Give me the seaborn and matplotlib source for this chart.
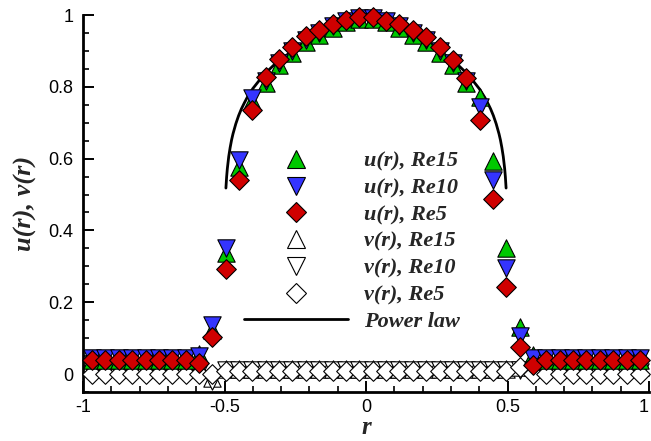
import matplotlib
matplotlib.use("Agg")
import matplotlib.pyplot as plt
from matplotlib.lines import Line2D
from matplotlib.ticker import MultipleLocator
import seaborn as sns

# ---------------- data ----------------
r = [-0.968, -0.921, -0.874, -0.826, -0.779, -0.732, -0.685, -0.637, -0.590, -0.543,
     -0.496, -0.449, -0.402, -0.354, -0.307, -0.260, -0.212, -0.165, -0.118, -0.071,
     -0.024, 0.024, 0.071, 0.118, 0.165, 0.212, 0.260, 0.307, 0.354, 0.402,
     0.449, 0.496, 0.543, 0.590, 0.637, 0.685, 0.732, 0.779, 0.826, 0.874,
     0.921, 0.968]

u_re15 = [0.04, 0.04, 0.04, 0.04, 0.04, 0.04, 0.04, 0.04, 0.055, 0.123,
          0.337, 0.577, 0.76, 0.81, 0.86, 0.895, 0.925, 0.945, 0.965, 0.98,
          0.99, 0.99, 0.98, 0.965, 0.945, 0.925, 0.895, 0.86, 0.81, 0.772,
          0.593, 0.351, 0.13, 0.053, 0.04, 0.04, 0.04, 0.04, 0.04, 0.04,
          0.04, 0.04]
u_re10 = [0.045, 0.045, 0.045, 0.045, 0.045, 0.045, 0.045, 0.045, 0.05, 0.137,
          0.35, 0.596, 0.77, 0.815, 0.865, 0.90, 0.93, 0.95, 0.968, 0.982,
          0.992, 0.992, 0.982, 0.968, 0.95, 0.93, 0.90, 0.865, 0.815, 0.744,
          0.54, 0.295, 0.105, 0.045, 0.045, 0.045, 0.045, 0.045, 0.045, 0.045,
          0.045, 0.045]
u_re5 = [0.04, 0.04, 0.04, 0.04, 0.04, 0.04, 0.04, 0.04, 0.03, 0.103,
         0.292, 0.54, 0.735, 0.827, 0.877, 0.911, 0.941, 0.958, 0.975, 0.986,
         0.994, 0.994, 0.983, 0.975, 0.958, 0.939, 0.911, 0.875, 0.824, 0.707,
         0.487, 0.242, 0.075, 0.025, 0.04, 0.04, 0.04, 0.04, 0.04, 0.04,
         0.04, 0.04]

v_re15 = [0.02, 0.02, 0.02, 0.02, 0.02, 0.02, 0.02, 0.02, 0.02, -0.01,
          0.015, 0.015, 0.015, 0.015, 0.015, 0.015, 0.015, 0.015, 0.015, 0.015,
          0.015, 0.015, 0.015, 0.015, 0.015, 0.015, 0.015, 0.015, 0.015, 0.015,
          0.015, 0.015, 0.02, 0.02, 0.02, 0.02, 0.02, 0.02, 0.02, 0.02,
          0.02, 0.02]
v_re10 = [0.005, 0.005, 0.005, 0.005, 0.005, 0.005, 0.005, 0.005, 0.005, -0.02,
          0.01, 0.01, 0.01, 0.01, 0.01, 0.01, 0.01, 0.01, 0.01, 0.01,
          0.01, 0.01, 0.01, 0.01, 0.01, 0.01, 0.01, 0.01, 0.01, 0.01,
          0.01, 0.01, 0.01, 0.005, 0.005, 0.005, 0.005, 0.005, 0.005, 0.005,
          0.005, 0.005]
v_re5 = [0.0, 0.0, 0.0, 0.0, 0.0, 0.0, 0.0, 0.0, 0.0, 0.0,
         0.008, 0.008, 0.008, 0.008, 0.008, 0.008, 0.008, 0.008, 0.008, 0.008,
         0.008, 0.008, 0.008, 0.008, 0.008, 0.008, 0.008, 0.008, 0.008, 0.008,
         0.008, 0.008, 0.02, 0.0, 0.0, 0.0, 0.0, 0.0, 0.0, 0.0,
         0.0, 0.0]

r_power = [-0.495, -0.4925, -0.49, -0.485, -0.48, -0.475, -0.47, -0.46, -0.45, -0.44,
           -0.43, -0.42, -0.40, -0.375, -0.35, -0.325, -0.30, -0.25, -0.20, -0.15,
           -0.10, -0.05, -0.025, -0.01, 0.0, 0.01, 0.025, 0.05, 0.10, 0.15,
           0.20, 0.25, 0.30, 0.325, 0.35, 0.375, 0.40, 0.42, 0.43, 0.44,
           0.45, 0.46, 0.47, 0.475, 0.48, 0.485, 0.49, 0.4925, 0.495]
u_power = [0.518, 0.549, 0.572, 0.606, 0.631, 0.652, 0.669, 0.697, 0.720, 0.739,
           0.755, 0.770, 0.795, 0.820, 0.842, 0.861, 0.877, 0.906, 0.930, 0.950,
           0.969, 0.985, 0.9927, 0.9971, 1.0, 0.9971, 0.9927, 0.985, 0.969, 0.950,
           0.930, 0.906, 0.877, 0.861, 0.842, 0.820, 0.795, 0.770, 0.755, 0.739,
           0.720, 0.697, 0.669, 0.652, 0.631, 0.606, 0.572, 0.549, 0.518]

labels = ["u(r), Re15", "u(r), Re10", "u(r), Re5",
          "v(r), Re15", "v(r), Re10", "v(r), Re5", "Power law"]

green = "#00c800"
blue = "#3434ff"
red = "#d00000"

# ---------------- figure ----------------
sns.set_style("ticks")
plt.rcParams["font.family"] = ["Liberation Sans", "DejaVu Sans"]

fig = plt.figure(figsize=(6.51, 4.41), dpi=100)
ax = fig.add_axes([83 / 651, 49 / 441, 566 / 651, 377 / 441])

tri_ms = 12.5
dia_ms = 10.0
ew = 0.8

common = dict(edgecolor="black", linewidth=ew, clip_on=False, zorder=3, ax=ax, legend=False)

sns.lineplot(x=r_power, y=u_power, sort=False, estimator=None, color="black",
             linewidth=2.0, ax=ax, zorder=2)

sns.scatterplot(x=r, y=v_re15, marker="^", s=tri_ms ** 2, color="white", **common)
sns.scatterplot(x=r, y=v_re10, marker="v", s=tri_ms ** 2, color="white", **common)
sns.scatterplot(x=r, y=v_re5, marker="D", s=dia_ms ** 2, color="white", **common)
sns.scatterplot(x=r, y=u_re15, marker="^", s=tri_ms ** 2, color=green, **common)
sns.scatterplot(x=r, y=u_re10, marker="v", s=tri_ms ** 2, color=blue, **common)
sns.scatterplot(x=r, y=u_re5, marker="D", s=dia_ms ** 2, color=red, **common)

ax.set_xlim(-1, 1)
ax.set_ylim(-0.05, 1.0)
ax.xaxis.set_minor_locator(MultipleLocator(0.1))
ax.yaxis.set_minor_locator(MultipleLocator(0.05))
ax.set_xticks([-1, -0.5, 0, 0.5, 1])
xt = ax.set_xticklabels(["-1", "-0.5", "0", "0.5", "1"])
xt[-1].set_horizontalalignment("right")
ax.set_yticks([0, 0.2, 0.4, 0.6, 0.8, 1.0])
ax.set_yticklabels(["0", "0.2", "0.4", "0.6", "0.8", "1"])

for side in ["top", "right"]:
    ax.spines[side].set_visible(False)
for side in ["left", "bottom"]:
    ax.spines[side].set_linewidth(2.0)
    ax.spines[side].set_color("black")

ax.tick_params(which="major", direction="in", length=8, width=1.4, labelsize=13,
               pad=7, colors="black")
ax.tick_params(axis="x", which="major", pad=5)
ax.tick_params(which="minor", direction="in", length=4.5, width=1.2, colors="black")

label_font = dict(family=["Liberation Serif", "DejaVu Serif"], weight="bold",
                  style="italic")
ax.set_xlabel("r", labelpad=0, size=18, **label_font)
ax.set_ylabel("u(r), v(r)", labelpad=8, size=19, **label_font)

handles = [
    Line2D([], [], linestyle="none", marker="^", markersize=tri_ms, markerfacecolor=green,
           markeredgecolor="black", markeredgewidth=ew),
    Line2D([], [], linestyle="none", marker="v", markersize=tri_ms, markerfacecolor=blue,
           markeredgecolor="black", markeredgewidth=ew),
    Line2D([], [], linestyle="none", marker="D", markersize=dia_ms, markerfacecolor=red,
           markeredgecolor="black", markeredgewidth=ew),
    Line2D([], [], linestyle="none", marker="^", markersize=tri_ms, markerfacecolor="white",
           markeredgecolor="black", markeredgewidth=ew),
    Line2D([], [], linestyle="none", marker="v", markersize=tri_ms, markerfacecolor="white",
           markeredgecolor="black", markeredgewidth=ew),
    Line2D([], [], linestyle="none", marker="D", markersize=dia_ms, markerfacecolor="white",
           markeredgecolor="black", markeredgewidth=ew),
    Line2D([], [], color="black", linewidth=2.0),
]
leg = ax.legend(handles, labels, loc="upper left",
                bbox_to_anchor=((244 - 83) / 566, (392 - 151) / 377),
                frameon=False, borderpad=0, borderaxespad=0, handlelength=4.68,
                handletextpad=0.72, labelspacing=0.28, numpoints=1,
                prop=dict(family=["Liberation Serif", "DejaVu Serif"], weight="bold",
                          style="italic", size=16))

fig.savefig("out.png", dpi=100)
